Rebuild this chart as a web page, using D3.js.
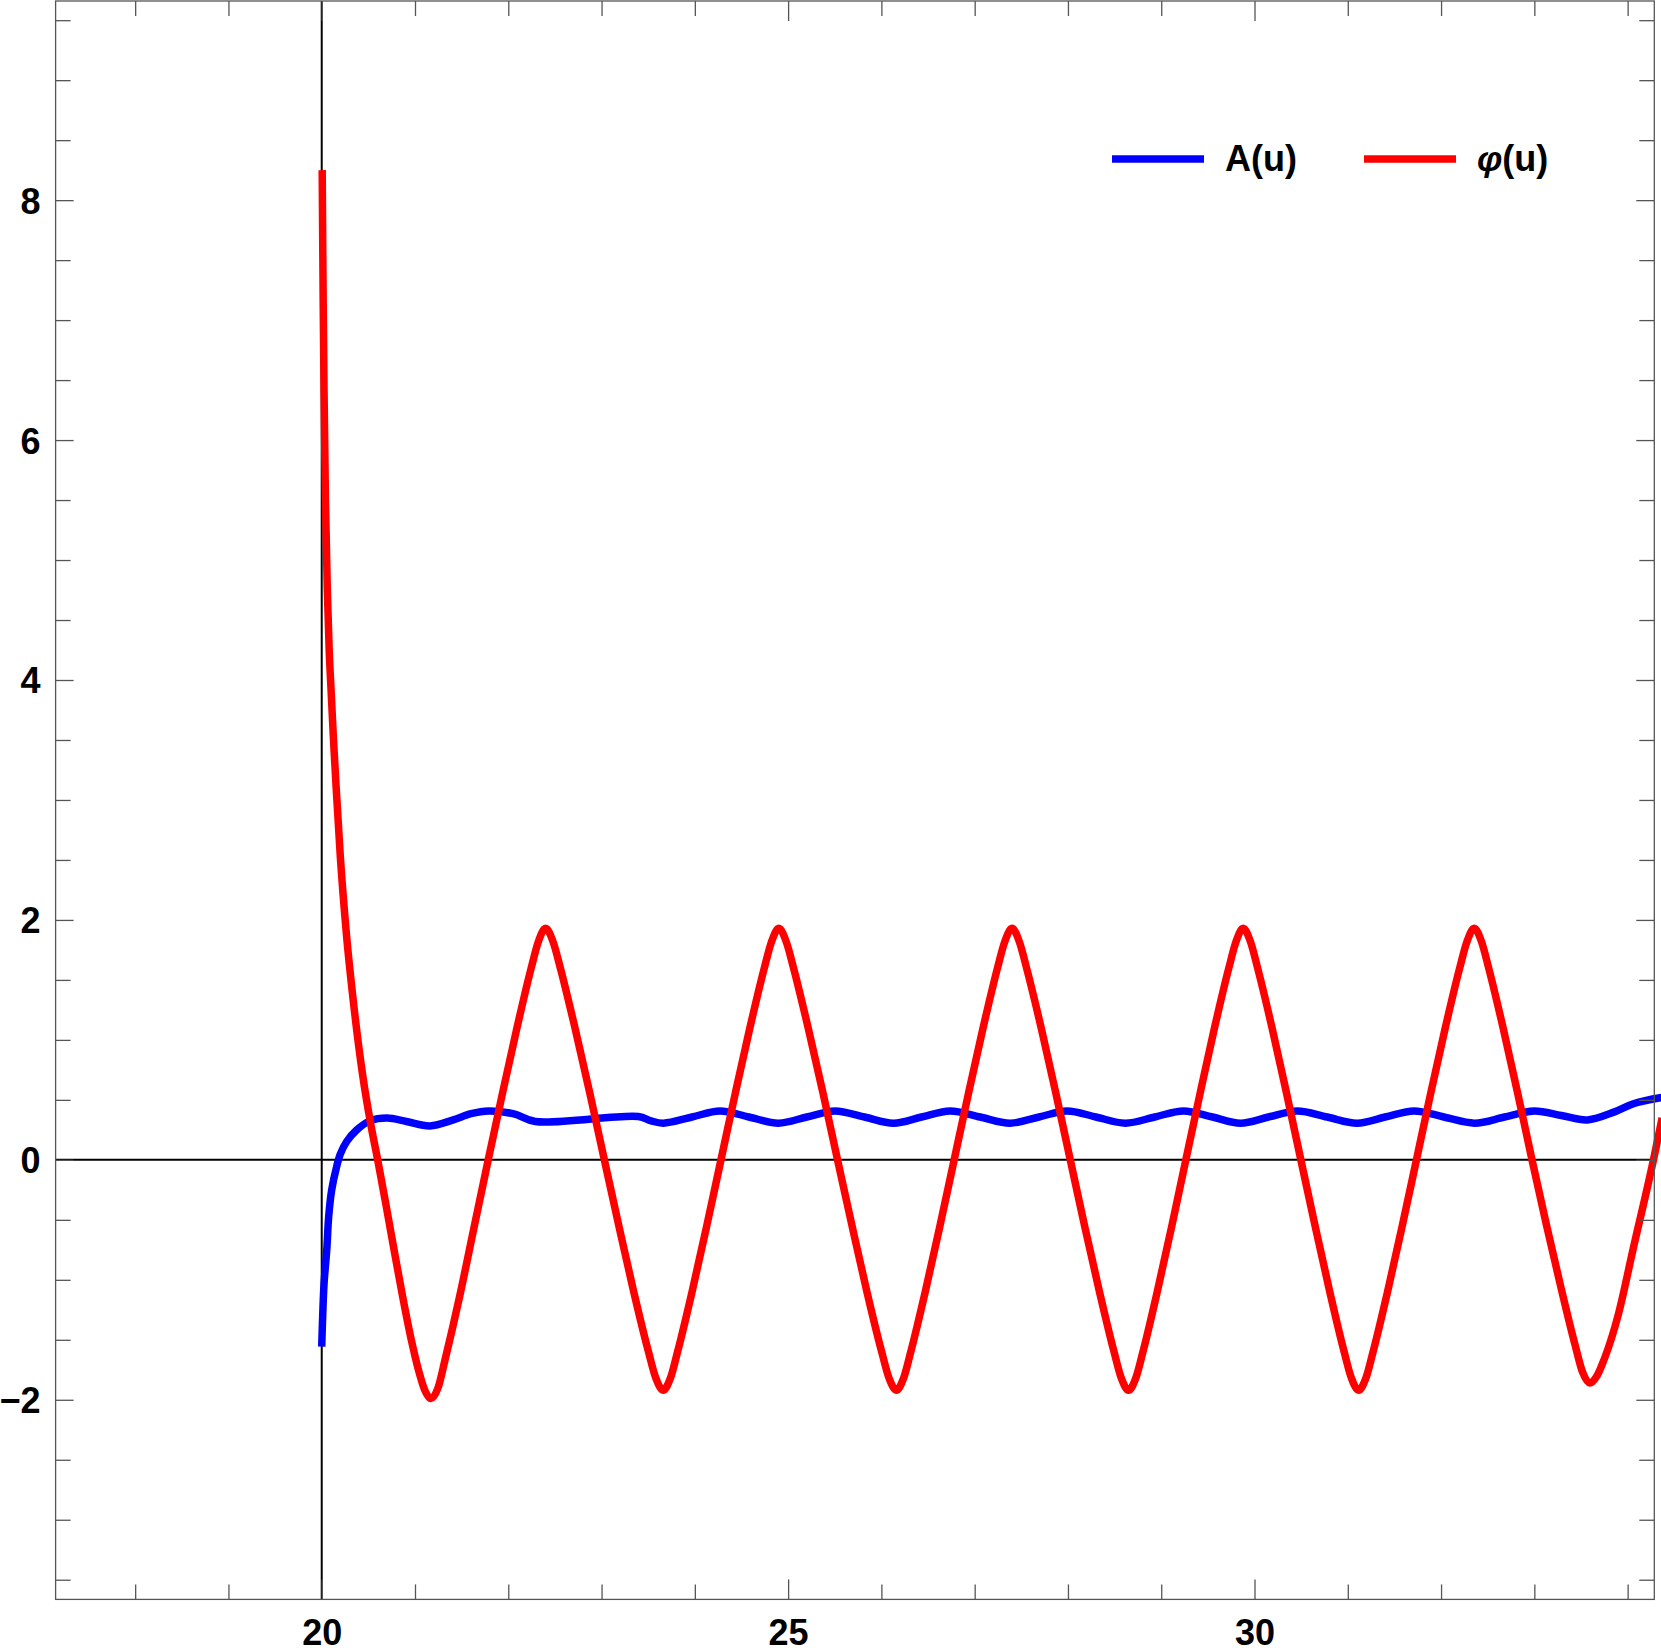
<!DOCTYPE html>
<html>
<head>
<meta charset="utf-8">
<script src="https://cdn.jsdelivr.net/npm/d3@7"></script>
<style>
  body { margin: 0; background: #fff; }
  svg { display: block; }
  text { font-family: "Liberation Sans", Arial, sans-serif; font-weight: bold; }
</style>
</head>
<body>
<div id="chart"></div>
<script>
// A(u) samples
const aU = [20.0, 20.01, 20.025, 20.054, 20.075, 20.107, 20.16, 20.2, 20.268, 20.376, 20.518, 20.7, 20.91, 21.16, 21.41, 21.6, 21.79, 22.06, 22.29,
  23.394, 23.53, 23.662, 23.97, 24.27, 24.58, 24.896, 25.2, 25.504, 25.82, 26.13, 26.43, 26.738, 27.06, 27.38, 27.69, 27.99, 28.3, 28.616,
  28.93, 29.24, 29.55, 29.85, 30.15, 30.458, 30.78, 31.1, 31.4, 31.71, 32.03, 32.36, 32.68, 33.0, 33.29, 33.57, 33.86, 34.07, 34.37];
const aVal = [-1.556, -1.31, -1.03, -0.75, -0.47, -0.25, -0.056, 0.05, 0.153, 0.25, 0.325, 0.348, 0.32, 0.283, 0.333, 0.385, 0.408, 0.383, 0.319,
  0.361, 0.325, 0.306, 0.357, 0.408, 0.357, 0.306, 0.357, 0.408, 0.357, 0.306, 0.357, 0.408, 0.357, 0.306, 0.357, 0.408, 0.357, 0.306,
  0.357, 0.408, 0.357, 0.306, 0.357, 0.408, 0.357, 0.306, 0.357, 0.408, 0.357, 0.306, 0.357, 0.408, 0.37, 0.333, 0.4, 0.47, 0.52];

// φ(u) samples
const phiU = [20.005, 20.015, 20.025, 20.04, 20.06, 20.08, 20.1, 20.125, 20.155, 20.2, 20.265, 20.345, 20.44, 20.525, 20.6,
  20.69, 20.78, 20.87, 20.96, 21.04, 21.105, 21.17, 21.247,
  21.324, 21.478, 21.631, 21.785, 21.939, 22.093, 22.246, 22.323, 22.4, 22.479,
  22.558, 22.715, 22.873, 23.03, 23.188, 23.345, 23.503, 23.582, 23.66, 23.738,
  23.815, 23.97, 24.125, 24.28, 24.435, 24.59, 24.745, 24.823, 24.9, 24.979,
  25.058, 25.215, 25.373, 25.53, 25.688, 25.845, 26.003, 26.082, 26.16, 26.238,
  26.315, 26.47, 26.625, 26.78, 26.935, 27.09, 27.245, 27.323, 27.4, 27.478,
  27.556, 27.713, 27.869, 28.025, 28.181, 28.338, 28.494, 28.572, 28.65, 28.727,
  28.804, 28.957, 29.111, 29.264, 29.418, 29.571, 29.725, 29.802, 29.878, 29.956,
  30.033, 30.188, 30.342, 30.497, 30.652, 30.807, 30.961, 31.039, 31.116, 31.194,
  31.271, 31.426, 31.581, 31.736, 31.89, 32.045, 32.2, 32.278, 32.355, 32.433,
  32.51, 32.665, 32.82, 32.975, 33.129, 33.284, 33.439, 33.517, 33.594, 33.672,
  33.75, 33.9, 34.06, 34.277, 34.37];
const phiVal = [8.25, 7.2, 6.4, 5.5, 4.75, 4.25, 3.92, 3.52, 3.1, 2.52, 1.88, 1.28, 0.7, 0.3, 0.0,
  -0.38, -0.77, -1.15, -1.5, -1.76, -1.92, -1.99, -1.9,
  -1.66, -1.14, -0.57, 0, 0.56, 1.1, 1.6, 1.82, 1.93, 1.82,
  1.6, 1.1, 0.56, 0, -0.56, -1.1, -1.6, -1.82, -1.92, -1.82,
  -1.6, -1.1, -0.56, 0, 0.56, 1.1, 1.6, 1.82, 1.93, 1.82,
  1.6, 1.1, 0.56, 0, -0.56, -1.1, -1.6, -1.82, -1.92, -1.82,
  -1.6, -1.1, -0.56, 0, 0.56, 1.1, 1.6, 1.82, 1.93, 1.82,
  1.6, 1.1, 0.56, 0, -0.56, -1.1, -1.6, -1.82, -1.92, -1.82,
  -1.6, -1.1, -0.56, 0, 0.56, 1.1, 1.6, 1.82, 1.93, 1.82,
  1.6, 1.1, 0.56, 0, -0.56, -1.1, -1.6, -1.82, -1.92, -1.82,
  -1.6, -1.1, -0.56, 0, 0.56, 1.1, 1.6, 1.82, 1.93, 1.82,
  1.6, 1.1, 0.56, 0, -0.54, -1.06, -1.55, -1.77, -1.86, -1.8,
  -1.66, -1.29, -0.74, 0, 0.35];

const xMajorTicks = [20, 25, 30];
const xMinorTicks = [18, 19, 21, 22, 23, 24, 26, 27, 28, 29, 31, 32, 33, 34];
const yMajorTicks = [-2, 0, 2, 4, 6, 8];
const yMinorTicks = [-3.5, -3, -2.5, -1.5, -1, -0.5, 0.5, 1, 1.5, 2.5, 3, 3.5, 4.5, 5, 5.5, 6.5, 7, 7.5, 8.5, 9, 9.5];
const legendLabels = ["A(u)", "φ(u)"];
const seriesColors = ["#0000ff", "#ff0000"];

const W = 1661, H = 1648;
const frame = { left: 55.6, right: 1654.3, top: 1, bottom: 1599.4 };
const frameColor = '#555';

const svg = d3.select('#chart').append('svg').attr('width', W).attr('height', H);

const x = d3.scaleLinear().domain([17.147, 34.286]).range([frame.left, frame.right]);
const y = d3.scaleLinear().domain([-3.664, 9.66]).range([frame.bottom, frame.top]);

// axes through origin (20, 0)
svg.append('line')
  .attr('x1', frame.left).attr('x2', frame.right)
  .attr('y1', y(0)).attr('y2', y(0))
  .attr('stroke', '#000').attr('stroke-width', 2);
svg.append('line')
  .attr('x1', x(20)).attr('x2', x(20))
  .attr('y1', frame.top).attr('y2', frame.bottom)
  .attr('stroke', '#000').attr('stroke-width', 2);

// curves
const line = d3.line().x(d => x(d[0])).y(d => y(d[1]));
const aData = aU.map((u, i) => [u, aVal[i]]);
const phiData = phiU.map((u, i) => [u, phiVal[i]]);

svg.append('path').datum(aData)
  .attr('d', line.curve(d3.curveCatmullRom.alpha(0.5))).attr('fill', 'none')
  .attr('stroke', seriesColors[0]).attr('stroke-width', 7.5)
  .attr('stroke-linejoin', 'round');
svg.append('path').datum(phiData)
  .attr('d', line.curve(d3.curveMonotoneX)).attr('fill', 'none')
  .attr('stroke', seriesColors[1]).attr('stroke-width', 7.5)
  .attr('stroke-linejoin', 'round');

// frame + inward ticks on all sides
function tickAxis(axis, transform) {
  const g = svg.append('g').attr('transform', transform).attr('color', frameColor).call(axis);
  g.select('.domain').remove();
  g.selectAll('.tick line').attr('stroke-width', 1.3);
  return g;
}
tickAxis(d3.axisBottom(x).tickValues(xMinorTicks).tickSize(-15).tickFormat(''), `translate(0,${frame.bottom})`);
tickAxis(d3.axisTop(x).tickValues(xMinorTicks).tickSize(-15).tickFormat(''), `translate(0,${frame.top})`);
tickAxis(d3.axisTop(x).tickValues(xMajorTicks).tickSize(-20).tickFormat(''), `translate(0,${frame.top})`);
tickAxis(d3.axisLeft(y).tickValues(yMinorTicks).tickSize(-15).tickFormat(''), `translate(${frame.left},0)`);
tickAxis(d3.axisRight(y).tickValues(yMinorTicks).tickSize(-15).tickFormat(''), `translate(${frame.right},0)`);
tickAxis(d3.axisRight(y).tickValues(yMajorTicks).tickSize(-18).tickFormat(''), `translate(${frame.right},0)`);

const xLab = tickAxis(d3.axisBottom(x).tickValues(xMajorTicks).tickSize(-20).tickPadding(20).tickFormat(d3.format('d')),
  `translate(0,${frame.bottom})`);
xLab.selectAll('text').attr('fill', '#000').attr('font-size', 36)
  .attr('font-family', '"Liberation Sans", Arial, sans-serif').attr('font-weight', 'bold');

const yLab = tickAxis(d3.axisLeft(y).tickValues(yMajorTicks).tickSize(-18).tickPadding(15).tickFormat(d3.format('d')),
  `translate(${frame.left},0)`);
yLab.selectAll('text').attr('fill', '#000').attr('font-size', 36).attr('dy', '0.36em')
  .attr('font-family', '"Liberation Sans", Arial, sans-serif').attr('font-weight', 'bold');

svg.append('rect')
  .attr('x', frame.left).attr('y', frame.top)
  .attr('width', frame.right - frame.left).attr('height', frame.bottom - frame.top)
  .attr('fill', 'none').attr('stroke', frameColor).attr('stroke-width', 1.3);

// legend
const legendX = [1112, 1364];
const legend = svg.append('g');
legendLabels.forEach((lab, i) => {
  legend.append('line')
    .attr('x1', legendX[i]).attr('x2', legendX[i] + 92)
    .attr('y1', 159).attr('y2', 159)
    .attr('stroke', seriesColors[i]).attr('stroke-width', 7.5);
  const t = legend.append('text')
    .attr('x', legendX[i] + 113).attr('y', 171)
    .attr('font-size', 36).attr('fill', '#000');
  if (lab.startsWith('φ')) {
    t.append('tspan').attr('font-style', 'italic').text('φ');
    t.append('tspan').text(lab.slice(1));
  } else {
    t.text(lab);
  }
});
</script>
</body>
</html>
